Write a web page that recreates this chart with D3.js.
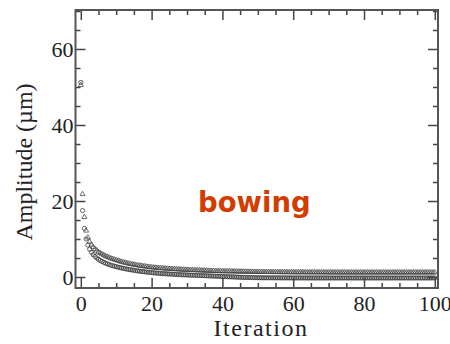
<!DOCTYPE html>
<html><head><meta charset="utf-8">
<script src="https://cdn.jsdelivr.net/npm/d3@7"></script>
<style>body{margin:0;background:#fff}svg{display:block}</style>
</head><body>
<svg id="c" width="450" height="344"></svg>
<script>
// Data: amplitude sampled every half iteration (0, 0.5, 1, ... 100)
const triangles = [
50.5,21.8,15.8,12.2,10.4,9.3,8.5,7.9,7.4,7.0,6.6,6.3,6.0,5.75,5.5,5.3,5.1,4.9,4.75,4.6,4.45,
4.3,4.15,4.0,3.88,3.76,3.65,3.54,3.44,3.35,3.26,3.17,3.09,3.01,2.94,2.87,2.8,2.73,2.67,2.61,2.55,
2.5,2.46,2.42,2.38,2.34,2.3,2.26,2.22,2.19,2.16,2.13,2.1,2.07,2.04,2.01,1.98,1.95,1.93,1.91,1.89,
1.87,1.85,1.83,1.81,1.79,1.77,1.75,1.73,1.71,1.69,1.67,1.65,1.63,1.61,1.59,1.57,1.56,1.55,1.54,1.53,
1.52,1.51,1.5,1.49,1.48,1.47,1.46,1.45,1.44,1.43,1.42,1.41,1.4,1.39,1.38,1.37,1.36,1.35,1.35,1.34,
1.33,1.33,1.32,1.32,1.31,1.31,1.3,1.3,1.29,1.29,1.28,1.28,1.28,1.27,1.27,1.27,1.26,1.26,1.26,1.25,
1.25,1.25,1.25,1.24,1.24,1.24,1.24,1.23,1.23,1.23,1.23,1.23,1.22,1.22,1.22,1.22,1.22,1.22,1.21,1.21,
1.21,1.21,1.21,1.21,1.21,1.2,1.2,1.2,1.2,1.2,1.2,1.2,1.2,1.2,1.2,1.2,1.2,1.2,1.2,1.2,
1.2,1.2,1.2,1.2,1.2,1.2,1.2,1.2,1.2,1.2,1.2,1.2,1.2,1.2,1.2,1.2,1.2,1.2,1.2,1.2,
1.2,1.2,1.2,1.2,1.2,1.2,1.2,1.2,1.2,1.2,1.2,1.2,1.2,1.2,1.2,1.2,1.2,1.2,1.2,1.2
];
const circles = [
51.2,17.5,12.8,10.0,8.4,7.3,6.5,5.9,5.4,5.0,4.65,4.35,4.1,3.85,3.65,3.45,3.28,3.12,2.98,2.85,2.72,
2.6,2.49,2.38,2.28,2.18,2.09,2.0,1.92,1.84,1.76,1.69,1.62,1.55,1.49,1.43,1.37,1.31,1.26,1.21,1.16,
1.11,1.07,1.03,0.99,0.95,0.91,0.88,0.85,0.82,0.79,0.76,0.73,0.7,0.67,0.64,0.62,0.6,0.58,0.56,0.54,
0.52,0.5,0.48,0.46,0.44,0.42,0.4,0.38,0.36,0.34,0.32,0.3,0.28,0.26,0.24,0.22,0.2,0.18,0.16,0.14,
0.12,0.1,0.08,0.06,0.04,0.02,0,-0.02,-0.04,-0.06,-0.08,-0.1,-0.11,-0.12,-0.13,-0.14,-0.15,-0.16,-0.17,-0.18,
-0.19,-0.19,-0.2,-0.2,-0.2,-0.21,-0.21,-0.21,-0.22,-0.22,-0.22,-0.22,-0.23,-0.23,-0.23,-0.23,-0.23,-0.24,-0.24,-0.24,
-0.24,-0.24,-0.24,-0.25,-0.25,-0.25,-0.25,-0.25,-0.25,-0.25,-0.25,-0.25,-0.25,-0.25,-0.25,-0.25,-0.25,-0.25,-0.25,-0.25,
-0.25,-0.25,-0.25,-0.25,-0.25,-0.25,-0.25,-0.25,-0.25,-0.25,-0.25,-0.25,-0.25,-0.25,-0.25,-0.25,-0.25,-0.25,-0.25,-0.25,
-0.25,-0.25,-0.25,-0.25,-0.25,-0.25,-0.25,-0.25,-0.25,-0.25,-0.25,-0.25,-0.25,-0.25,-0.25,-0.25,-0.25,-0.25,-0.25,-0.25,
-0.25,-0.25,-0.25,-0.25,-0.25,-0.25,-0.25,-0.25,-0.25,-0.25,-0.25,-0.25,-0.25,-0.25,-0.25,-0.25,-0.25,-0.25,-0.25,-0.25
];
const iterations = d3.range(triangles.length).map(i => i / 2);
const xMajor = [0, 20, 40, 60, 80, 100];
const xMinor = [5,10,15,25,30,35,45,50,55,65,70,75,85,90,95];
const yMajor = [0, 20, 40, 60];
const yMinor = [5,10,15,25,30,35,45,50,55,65,70];
const xTitle = "Iteration";
const yTitle = "Amplitude (\u00b5m)";
const note = "bowing";

const svg = d3.select("#c");
const L = 75.5, R = 438, T = 10, B = 288;
const x = d3.scaleLinear().domain([-1.5, 100.9]).range([L, R]);
const y = d3.scaleLinear().domain([-2.89, 70.26]).range([B, T]);

svg.append("defs").append("clipPath").attr("id","clip")
  .append("rect").attr("x",L).attr("y",T).attr("width",R-L).attr("height",B-T);

const pts = svg.append("g").attr("clip-path","url(#clip)");
const tri = d3.symbol().type(d3.symbolTriangle).size(11);
pts.selectAll("path.t").data(iterations).join("path")
  .attr("class","t")
  .attr("d", tri)
  .attr("transform", (d,i) => `translate(${x(d)},${y(triangles[i])})`)
  .attr("fill","none").attr("stroke","#444").attr("stroke-width",0.9).attr("stroke-opacity",0.85);
pts.selectAll("circle.c").data(iterations).join("circle")
  .attr("class","c")
  .attr("cx", d => x(d)).attr("cy", (d,i) => y(circles[i])).attr("r", 2.1)
  .attr("fill","none").attr("stroke","#333").attr("stroke-width",0.9).attr("stroke-opacity",0.85);

function styleAxis(g){
  g.select(".domain").remove();
  g.selectAll(".tick line").attr("stroke","#444").attr("stroke-width",1.5);
  g.selectAll(".tick text").attr("fill","#222")
    .style("font-family","'Liberation Serif', 'Times New Roman', serif").style("font-size","22px");
}
const noLab = () => "";
svg.append("g").attr("transform",`translate(0,${B})`)
  .call(d3.axisBottom(x).tickValues(xMajor).tickSize(-10).tickPadding(7).tickFormat(d3.format("d"))).call(styleAxis);
svg.append("g").attr("transform",`translate(0,${B})`)
  .call(d3.axisBottom(x).tickValues(xMinor).tickSize(-5).tickFormat(noLab)).call(styleAxis);
svg.append("g").attr("transform",`translate(0,${T})`)
  .call(d3.axisTop(x).tickValues(xMajor).tickSize(-10).tickFormat(noLab)).call(styleAxis);
svg.append("g").attr("transform",`translate(0,${T})`)
  .call(d3.axisTop(x).tickValues(xMinor).tickSize(-5).tickFormat(noLab)).call(styleAxis);
svg.append("g").attr("transform",`translate(${L},0)`)
  .call(d3.axisLeft(y).tickValues(yMajor).tickSize(-10).tickPadding(2).tickFormat(d3.format("d"))).call(styleAxis);
svg.append("g").attr("transform",`translate(${L},0)`)
  .call(d3.axisLeft(y).tickValues(yMinor).tickSize(-5).tickFormat(noLab)).call(styleAxis);
svg.append("g").attr("transform",`translate(${R},0)`)
  .call(d3.axisRight(y).tickValues(yMajor).tickSize(-10).tickFormat(noLab)).call(styleAxis);
svg.append("g").attr("transform",`translate(${R},0)`)
  .call(d3.axisRight(y).tickValues(yMinor).tickSize(-5).tickFormat(noLab)).call(styleAxis);

svg.append("rect").attr("x",L).attr("y",T).attr("width",R-L).attr("height",B-T)
  .attr("fill","none").attr("stroke","#555").attr("stroke-width",2);

svg.append("text").attr("x",261).attr("y",335.5).attr("text-anchor","middle")
  .style("font-family","'Liberation Serif', serif").style("font-size","24px").style("letter-spacing","1.5px")
  .attr("fill","#222").text(xTitle);
svg.append("text").attr("transform","translate(32,162) rotate(-90)").attr("text-anchor","middle")
  .style("font-family","'Liberation Serif', serif").style("font-size","24px")
  .attr("fill","#222").text(yTitle);
svg.append("text").attr("x",198).attr("y",212)
  .style("font-family","'DejaVu Sans', sans-serif").style("font-weight","bold").style("font-size","27.5px")
  .attr("fill","#d33c00").text(note);
</script>
</body></html>
